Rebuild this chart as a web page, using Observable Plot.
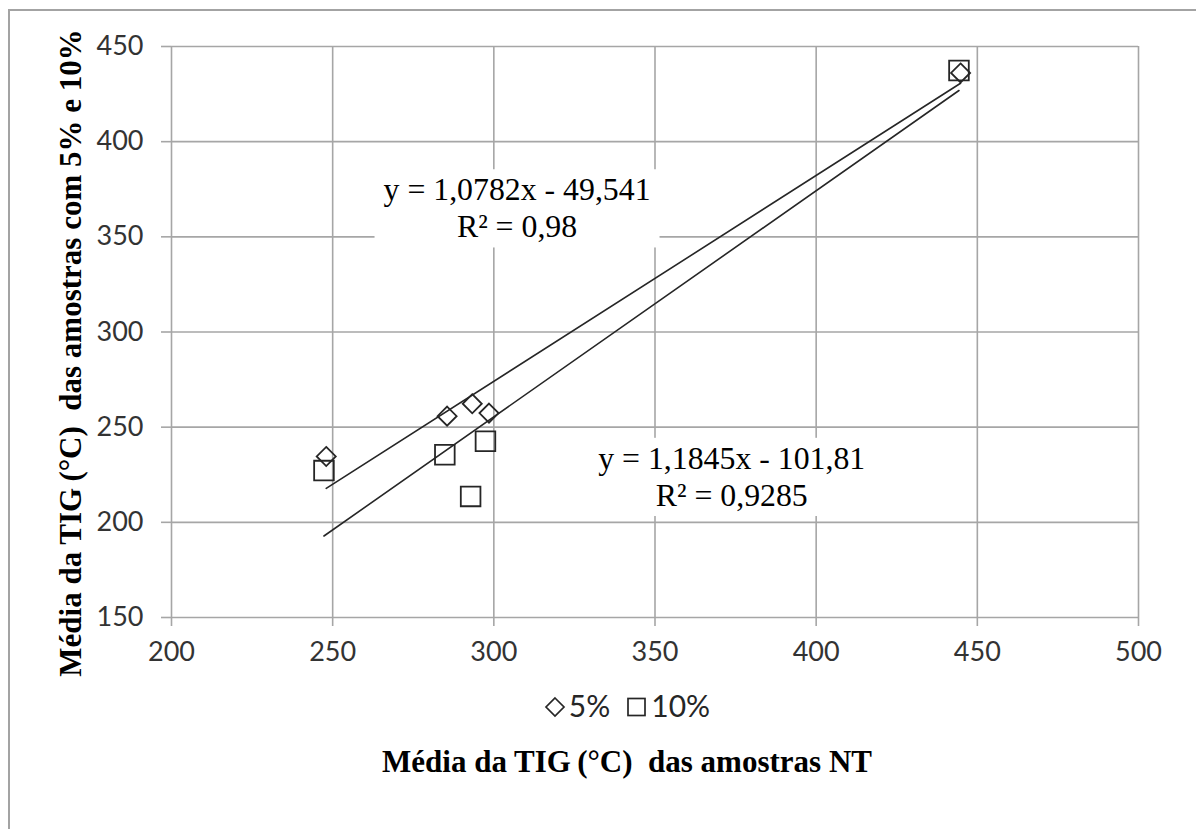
<!DOCTYPE html>
<html>
<head>
<meta charset="utf-8">
<script src="https://cdn.jsdelivr.net/npm/d3@7"></script>
<script src="https://cdn.jsdelivr.net/npm/@observablehq/plot@0.6"></script>
<style>
  body { margin: 0; background: #fff; }
  #wrap { position: relative; width: 1196px; height: 829px; overflow: hidden; background: #fff; }
  #frame { position: absolute; left: 8px; top: 9px; width: 1250px; height: 900px; border: 2px solid #a3a3a3; box-sizing: border-box; }
  #chart { position: absolute; left: 0; top: 0; }
  #legend { position: absolute; left: 0; width: 1254px; top: 686px; text-align: center; font-family: Lato, "Open Sans", sans-serif; font-size: 30px; color: #262626; line-height: 38px; }
  #legend svg { vertical-align: -1px; }
  #xtitle { position: absolute; left: 0; width: 1254px; top: 742px; text-align: center; font-family: "Liberation Serif", "Times New Roman", serif; font-weight: bold; font-size: 31px; color: #000; line-height: 40px; white-space: pre; }
</style>
</head>
<body>
<div id="wrap">
  <div id="frame"></div>
  <div id="chart"></div>
  <div id="legend"></div>
  <div id="xtitle"></div>
</div>
<script>
// ---- data ----
const seriesNames = ["5%", "10%"];
const x5 = [248, 285.5, 293.3, 298.5, 444.8];
const y5 = [234.6, 255.8, 262.3, 257.4, 436.1];
const x10 = [247.3, 284.8, 292.8, 297.4, 444.3];
const y10 = [227.2, 235.5, 213.6, 242.6, 437.4];
const xTicks = [200, 250, 300, 350, 400, 450, 500];
const yTicks = [150, 200, 250, 300, 350, 400, 450];
const eqLabels = ["y = 1,0782x - 49,541\nR² = 0,98", "y = 1,1845x - 101,81\nR² = 0,9285"];
const eqX = [307.2, 373.8];
const eqY = [365.7, 224.6];
const xTitle = "Média da TIG\u2009(°C)\u00a0 das amostras NT";
const yTitle = "Média da TIG\u2009(°C)\u00a0 das amostras com 5% e 10%";

const d5 = x5.map((x, i) => ({x, y: y5[i]}));
const d10 = x10.map((x, i) => ({x, y: y10[i]}));
const eqData = eqLabels.map((t, i) => ({t, x: eqX[i], y: eqY[i]}));

const grid = "#a6a6a6";
const ink = "#262626";
const tickFont = "Lato, 'Open Sans', sans-serif";
const serif = "'Liberation Serif', 'Times New Roman', serif";

const chart = Plot.plot({
  width: 1196,
  height: 829,
  marginLeft: 171,
  marginRight: 58,
  marginTop: 46,
  marginBottom: 212,
  style: { background: "transparent", overflow: "visible" },
  x: { domain: [200, 500] },
  y: { domain: [150, 450] },
  marks: [
    Plot.gridX(xTicks, { stroke: grid, strokeOpacity: 1, strokeWidth: 1.6 }),
    Plot.gridY(yTicks, { stroke: grid, strokeOpacity: 1, strokeWidth: 1.6 }),
    Plot.axisX(xTicks, { tickSize: 9, tickPadding: 15, stroke: grid, strokeWidth: 1.6, fill: "#333", fontSize: 27, fontFamily: tickFont, label: null }),
    Plot.axisY(yTicks, { tickSize: 10, tickPadding: 18, stroke: grid, strokeWidth: 1.6, fill: "#333", fontSize: 27, fontFamily: tickFont, label: null }),
    Plot.linearRegressionY(d5, { x: "x", y: "y", ci: 0, stroke: ink, strokeWidth: 1.6 }),
    Plot.linearRegressionY(d10, { x: "x", y: "y", ci: 0, stroke: ink, strokeWidth: 1.6 }),
    Plot.dot(d5, { x: "x", y: "y", symbol: "diamond2", r: 8.6, stroke: ink, strokeWidth: 1.8, fill: "none" }),
    Plot.dot(d10, { x: "x", y: "y", symbol: "square2", r: 12.5, stroke: ink, strokeWidth: 1.8, fill: "none" }),
    Plot.text(eqData, { x: "x", y: "y", text: "t", fontSize: 31.8, fontFamily: serif, fill: "#000", lineHeight: 1.17 }),
    Plot.text([yTitle], { frameAnchor: "left", textAnchor: "middle", rotate: -90, dx: -100, dy: 21, fontSize: 31, fontWeight: "bold", fontFamily: serif, fill: "#000" })
  ]
});
document.getElementById("chart").appendChild(chart);

// white boxes behind the equation labels
chart.querySelectorAll("text").forEach(t => {
  if (!t.textContent.includes("R²")) return;
  const b = t.getBBox();
  const r = document.createElementNS("http://www.w3.org/2000/svg", "rect");
  r.setAttribute("x", b.x - 9);
  r.setAttribute("y", b.y - 3);
  r.setAttribute("width", b.width + 18);
  r.setAttribute("height", b.height + 6);
  r.setAttribute("fill", "#fff");
  const tr = t.getAttribute("transform");
  if (tr) r.setAttribute("transform", tr);
  t.parentNode.insertBefore(r, t);
});

// legend
const legend = document.getElementById("legend");
const sym = {
  "5%": '<svg width="22" height="22" viewBox="0 0 22 22"><path d="M11,2 L20,11 L11,20 L2,11Z" fill="none" stroke="#262626" stroke-width="1.7"/></svg>',
  "10%": '<svg width="22" height="22" viewBox="0 0 22 22"><rect x="2" y="2.5" width="17" height="17" fill="none" stroke="#262626" stroke-width="1.7"/></svg>'
};
legend.innerHTML = seriesNames.map(n => `<span>${sym[n]}<span style="margin-left:3px">${n}</span></span>`).join('<span style="display:inline-block;width:16px"></span>');
document.getElementById("xtitle").textContent = xTitle;
</script>
</body>
</html>
